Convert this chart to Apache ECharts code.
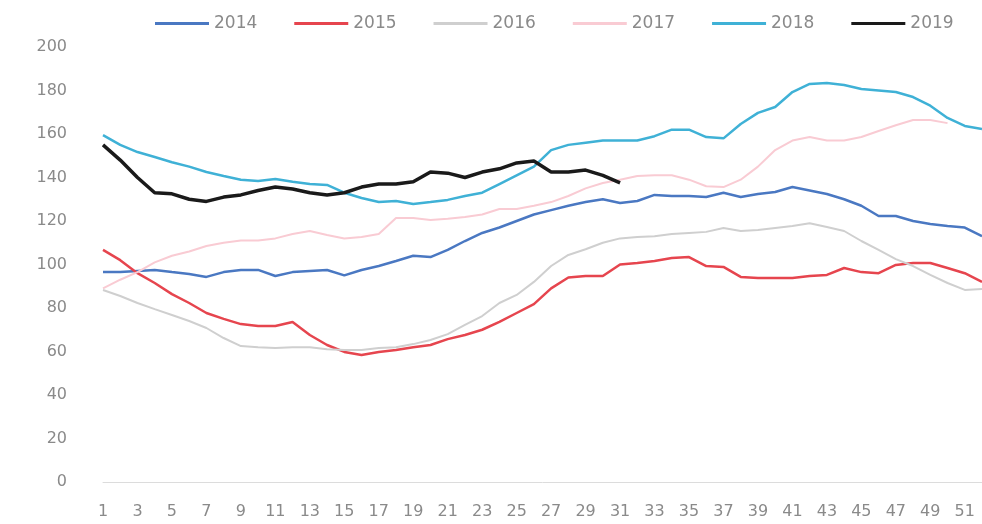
<!DOCTYPE html>
<html>
<head>
<meta charset="utf-8">
<script src="https://cdn.jsdelivr.net/npm/echarts@6/dist/echarts.min.js"></script>
<style>
html,body{margin:0;padding:0;background:#fff;}
#chart{width:982px;height:524px;}
</style>
</head>
<body>
<div id="chart"></div>
<script>
const weeks = Array.from({length: 52}, (_, i) => String(i + 1));
const seriesNames = ['2014', '2015', '2016', '2017', '2018', '2019'];
const yTicks = [0, 20, 40, 60, 80, 100, 120, 140, 160, 180, 200];

const v2014 = [96.5,96.5,97,97.5,96.5,95.6,94.3,96.5,97.5,97.5,94.7,96.5,97,97.5,95,97.5,99.3,101.6,104,103.4,106.7,110.8,114.5,117,120,123,125,127,128.7,130,128.3,129.2,132,131.5,131.5,131,133,131,132.4,133.3,135.6,134,132.4,130,127,122.3,122.3,120,118.6,117.7,117,113];
const v2015 = [106.7,102,96,91.5,86.4,82.3,77.7,75,72.6,71.7,71.7,73.6,67.6,63,59.8,58.4,59.8,60.7,62,63,65.7,67.6,70,73.6,77.7,81.8,89,94,94.7,94.7,100,100.7,101.6,103,103.4,99.3,98.9,94.3,93.8,93.8,93.8,94.7,95.2,98.4,96.5,96,99.8,100.7,100.7,98.4,96,92];
const v2016 = [88.3,85.5,82.3,79.5,76.8,74,70.8,66.2,62.5,62,61.6,62,62,61,60.7,60.7,61.6,62,63.4,65.3,68,72.2,76.3,82.3,86,92,99.3,104.4,107,110,112,112.6,113,114,114.5,115,116.8,115.4,115.9,116.8,117.7,119,117.2,115.4,110.8,106.7,102.5,99.3,95.2,91.5,88.3,88.7];
const v2017 = [89,93,96.5,101,104,106,108.5,110,111,111,112,114,115.4,113.6,112,112.6,114,121.4,121.4,120.5,121,121.8,123,125.5,125.5,127,128.7,131.5,135,137.5,139,140.7,141,141,139,136,135.6,139,145,152.6,157,158.6,157,157,158.6,161.4,164,166.4,166.4,165,null,null];
const v2018 = [159.5,155,151.7,149.4,147,145,142.5,140.7,139,138.4,139.3,138,137,136.6,133,130.6,128.7,129.2,127.8,128.7,129.7,131.5,133,137,141,145,152.6,155,156,157,157,157,159,162,162,158.6,158,164.6,169.7,172.4,179.3,183,183.4,182.5,180.7,180,179.3,177,173,167.4,163.7,162.3];
const v2019 = [155,148,140,133,132.5,130,129,131,132,134,135.6,134.7,133,132,133,135.6,137,137,138,142.5,142,140,142.5,144,146.7,147.6,142.5,142.5,143.4,141,137.5];

const values = [v2014, v2015, v2016, v2017, v2018, v2019];
const colors = ['#4a78c2', '#e6454e', '#cfcfcf', '#f9cbd3', '#3fb1d6', '#1a1a1a'];
const widths = [2.5, 2.5, 2, 2, 2.5, 3.5];

const chart = echarts.init(document.getElementById('chart'), null, {renderer: 'canvas'});
chart.setOption({
  animation: false,
  backgroundColor: '#ffffff',
  color: colors,
  legend: {
    top: 10,
    left: 150,
    itemWidth: 54,
    itemHeight: 3,
    itemGap: 37,
    textStyle: {color: '#8a8a8a', fontSize: 17, fontFamily: 'DejaVu Sans'},
    data: seriesNames.map((n, i) => ({name: n, icon: 'rect', itemStyle: {color: colors[i]}}))
  },
  grid: {left: 103, right: 0, top: 47, bottom: 42, containLabel: false},
  xAxis: {
    type: 'category',
    data: weeks,
    boundaryGap: false,
    axisLine: {lineStyle: {color: '#dcdcdc', width: 1}},
    axisTick: {show: false},
    axisLabel: {interval: 1, color: '#8a8a8a', fontSize: 16, fontFamily: 'DejaVu Sans', margin: 22}
  },
  yAxis: {
    type: 'value',
    min: yTicks[0],
    max: yTicks[yTicks.length - 1],
    interval: 20,
    axisLine: {show: false},
    axisTick: {show: false},
    splitLine: {show: false},
    axisLabel: {color: '#8a8a8a', fontSize: 16, fontFamily: 'DejaVu Sans', margin: 36}
  },
  series: seriesNames.map((n, i) => ({
    name: n,
    type: 'line',
    data: values[i],
    symbol: 'none',
    smooth: false,
    lineStyle: {width: widths[i], color: colors[i]},
    itemStyle: {color: colors[i]},
    z: 2 + i
  }))
});
</script>
</body>
</html>
